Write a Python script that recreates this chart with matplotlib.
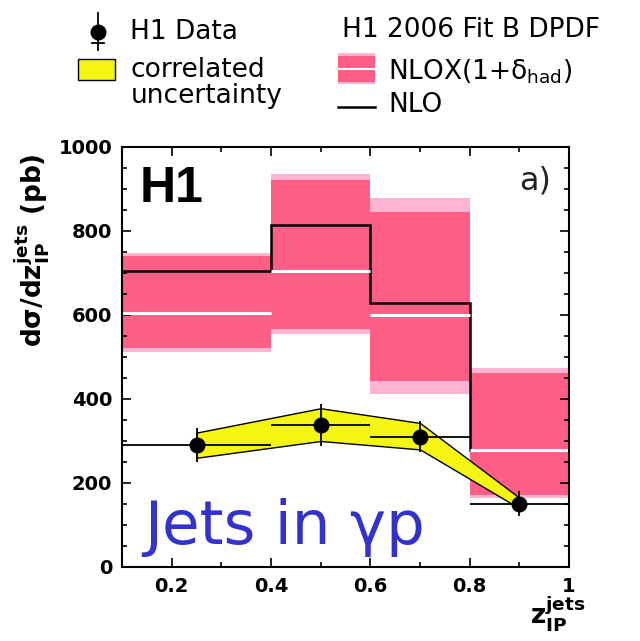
import matplotlib
matplotlib.use("Agg")
import matplotlib.pyplot as plt
from matplotlib.patches import Rectangle
from matplotlib.ticker import MultipleLocator
import numpy as np

# ---------------- data ----------------
bin_edges = [0.1, 0.4, 0.6, 0.8, 1.0]
nlo = [705, 814, 629, 278]
nlox_center = [605, 705, 600, 278]
nlox_inner_lo = [521, 567, 443, 172]
nlox_inner_hi = [740, 921, 845, 463]
nlox_outer_lo = [512, 555, 413, 164]
nlox_outer_hi = [748, 936, 879, 474]

data_x = [0.25, 0.5, 0.7, 0.9]
data_y = [290, 338, 310, 151]
data_err = [40, 50, 37, 30]
corr_lo = [260, 300, 280, 140]
corr_hi = [320, 378, 343, 165]

x_ticks = [0.2, 0.4, 0.6, 0.8, 1.0]
x_ticklabels = ["0.2", "0.4", "0.6", "0.8", "1"]
y_ticks = [0, 200, 400, 600, 800, 1000]

PINK = "#ff5f87"
LPINK = "#ffb4d2"
YELLOW = "#f5f514"

plt.rcParams['mathtext.fontset'] = 'custom'
plt.rcParams['mathtext.rm'] = 'DejaVu Sans'
plt.rcParams['mathtext.bf'] = 'DejaVu Sans:bold'

fig = plt.figure(figsize=(6.4, 6.41), dpi=100)
ax = fig.add_axes([122/640, 1-567/641, 447/640, 420/641])

edges = np.array(bin_edges)
lefts = edges[:-1]
widths = np.diff(edges)

# NLOX bands
ax.bar(lefts, np.array(nlox_outer_hi)-np.array(nlox_outer_lo), width=widths,
       bottom=nlox_outer_lo, align='edge', color=LPINK, lw=0, zorder=1)
ax.bar(lefts, np.array(nlox_inner_hi)-np.array(nlox_inner_lo), width=widths,
       bottom=nlox_inner_lo, align='edge', color=PINK, lw=0, zorder=1.1)

# NLO step
ax.stairs(nlo, edges, baseline=None, color='black', lw=1.8, zorder=2)
# NLOX centre lines
ax.hlines(nlox_center, edges[:-1], edges[1:], color='white', lw=2.2, zorder=2.5)

# correlated uncertainty band
ax.fill_between(data_x, corr_lo, corr_hi, facecolor=YELLOW, edgecolor='black',
                lw=1.0, zorder=3)

# data horizontal bars over bin width
ax.hlines(data_y, edges[:-1], edges[1:], color='black', lw=1.3, zorder=4)
ax.errorbar(data_x, data_y, yerr=data_err, fmt='o', color='black', ms=10.5,
            elinewidth=1.3, capsize=0, zorder=5)

ax.set_xlim(0.1, 1.0)
ax.set_ylim(0, 1000)
ax.set_xticks(x_ticks)
ax.set_xticklabels(x_ticklabels)
ax.set_yticks(y_ticks)
ax.xaxis.set_minor_locator(MultipleLocator(0.1))
ax.yaxis.set_minor_locator(MultipleLocator(50))
ax.tick_params(which='both', direction='in', top=True, right=True, width=1.2)
ax.tick_params(which='major', length=6.5, labelsize=14, pad=7)
ax.tick_params(which='minor', length=3.6)
for lab in ax.get_xticklabels() + ax.get_yticklabels():
    lab.set_fontweight('bold')
    lab.set_family('DejaVu Sans')
for s in ax.spines.values():
    s.set_linewidth(1.5)

ax.text(0.04, 0.955, "H1", transform=ax.transAxes, fontsize=36,
        fontweight='bold', family='Liberation Sans', ha='left', va='top')
ax.text(0.96, 0.955, "a)", transform=ax.transAxes, fontsize=23,
        family='DejaVu Sans', ha='right', va='top', color='#222222')
ax.text(0.05, 0.055, "Jets in γp", transform=ax.transAxes, fontsize=44,
        color='#3333cc', family='DejaVu Sans', ha='left', va='baseline')

# axis labels
fig.text(32/640, 1-250/641, r'$\mathbf{dσ/dz}_{\mathbf{IP}}^{\mathbf{jets}}$ (pb)',
         rotation=90, ha='center', va='center', fontsize=19, fontweight='bold',
         family='DejaVu Sans')
fig.text(530/640, 1-624/641, r'$\mathbf{z}_{\mathbf{IP}}^{\mathbf{jets}}$',
         ha='left', va='baseline', fontsize=19, fontweight='bold')

# ---------------- legend (figure pixel overlay) ----------------
lg = fig.add_axes([0, 0, 1, 1], facecolor='none')
lg.set_xlim(0, 640)
lg.set_ylim(641, 0)
lg.axis('off')

lg.plot([98, 98], [13, 50], color='black', lw=1.3)
lg.plot([92, 104], [43, 43], color='black', lw=1.3)
lg.plot([98], [32], 'o', color='black', ms=10.5)
lg.add_patch(Rectangle((78, 59), 37, 21, facecolor=YELLOW, edgecolor='black', lw=1.0))

lg.add_patch(Rectangle((338, 53), 37, 31, facecolor=LPINK, edgecolor='none'))
lg.add_patch(Rectangle((338, 55.5), 37, 26, facecolor=PINK, edgecolor='none'))
lg.plot([338, 375], [68.5, 68.5], color='white', lw=1.5)
lg.plot([338, 375], [107, 107], color='black', lw=1.8)

fs = 19
lg.text(130, 39, "H1 Data", fontsize=fs, family='DejaVu Sans', va='baseline')
lg.text(131, 77, "correlated", fontsize=fs, family='DejaVu Sans', va='baseline')
lg.text(131, 103, "uncertainty", fontsize=fs, family='DejaVu Sans', va='baseline')
lg.text(342, 37, "H1 2006 Fit B DPDF", fontsize=fs, family='DejaVu Sans', va='baseline')
lg.text(388, 80, r'NLOX(1+$\mathregular{δ_{had}}$)', fontsize=fs,
        family='DejaVu Sans', va='baseline')
lg.text(388, 112, "NLO", fontsize=fs, family='DejaVu Sans', va='baseline')

fig.savefig("out.png", dpi=100)
